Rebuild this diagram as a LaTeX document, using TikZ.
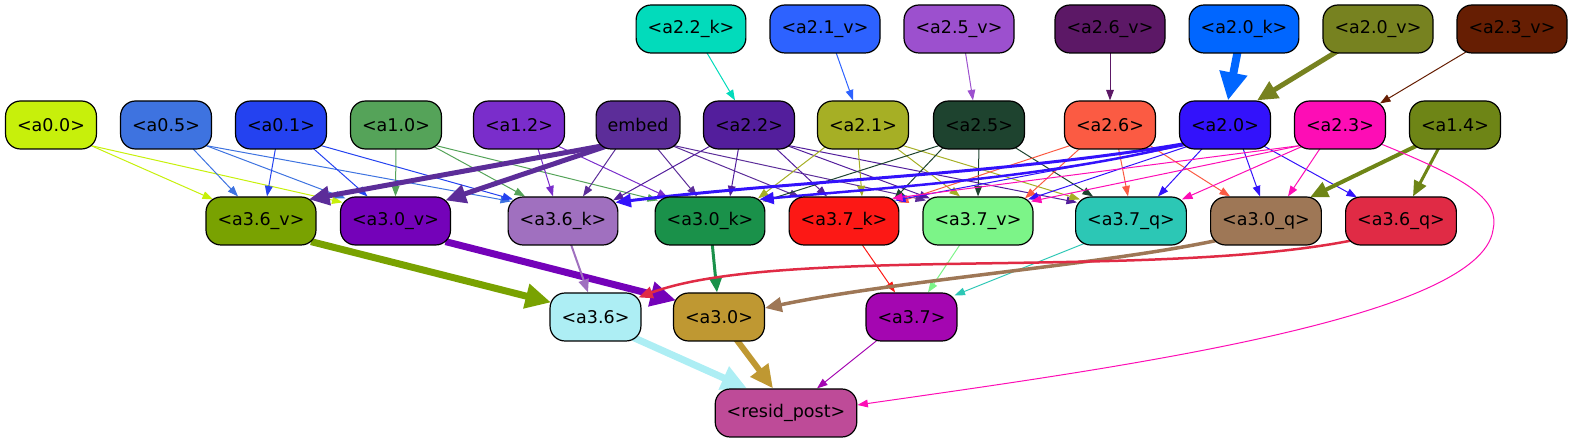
\documentclass[tikz,border=0pt]{standalone}
\usepackage{fontspec}
\setmainfont{DejaVu Sans}
\usetikzlibrary{arrows.meta}
\pgfdeclarelayer{background}
\pgfsetlayers{background,main}
\definecolor{c22k}{HTML}{02DBBB}
\definecolor{c21v}{HTML}{2D62FF}
\definecolor{c25v}{HTML}{9C50CE}
\definecolor{c26v}{HTML}{5C1866}
\definecolor{c20k}{HTML}{0066FF}
\definecolor{c20v}{HTML}{778220}
\definecolor{c23v}{HTML}{661E03}
\definecolor{c00}{HTML}{C7F00B}
\definecolor{c05}{HTML}{3E73E0}
\definecolor{c01}{HTML}{2442F0}
\definecolor{c10}{HTML}{55A359}
\definecolor{c12}{HTML}{7A2DCB}
\definecolor{cemb}{HTML}{5C2D99}
\definecolor{c22}{HTML}{531E9C}
\definecolor{c21}{HTML}{A6AF25}
\definecolor{c25}{HTML}{1E432F}
\definecolor{c26}{HTML}{FB5B43}
\definecolor{c20}{HTML}{3312FB}
\definecolor{c23}{HTML}{FD0DB5}
\definecolor{c14}{HTML}{6E8516}
\definecolor{c36v}{HTML}{79A201}
\definecolor{c30v}{HTML}{7402B9}
\definecolor{c36k}{HTML}{A070BF}
\definecolor{c30k}{HTML}{1A914A}
\definecolor{c37k}{HTML}{FC1815}
\definecolor{c37v}{HTML}{7CF488}
\definecolor{c37q}{HTML}{2CC7B5}
\definecolor{c30q}{HTML}{9E7756}
\definecolor{c36q}{HTML}{E02B45}
\definecolor{c36}{HTML}{ADEEF4}
\definecolor{c30}{HTML}{BF9832}
\definecolor{c37}{HTML}{A406B1}
\definecolor{cres}{HTML}{BE4B98}
\newcommand\myedge[7][]{\draw[ed=#2,#1] ([xshift=#4pt,yshift=4pt]#3.south) -- ([xshift=#6pt,yshift=-#7pt]#5.north);}
\begin{document}
\begin{tikzpicture}[x=1pt,y=-1pt,
  nd/.style={draw=black, line width=1.2pt, rounded corners=15pt, minimum height=48pt,
    inner xsep=11.5pt, inner ysep=0pt, font=\fontsize{17.5}{21}\selectfont, text=black},
  ed/.style={draw=#1, line width=1pt, -{Triangle[length=8pt 2.5, width=5pt 2.7]}}]
\useasboundingbox (0,0) rectangle (1591,443);
% row 1
\node[nd, fill=c22k] (a22k) at (691,29) {<a2.2\_k>};
\node[nd, fill=c21v] (a21v) at (825,29) {<a2.1\_v>};
\node[nd, fill=c25v] (a25v) at (959,29) {<a2.5\_v>};
\node[nd, fill=c26v] (a26v) at (1110,29) {<a2.6\_v>};
\node[nd, fill=c20k] (a20k) at (1244,29) {<a2.0\_k>};
\node[nd, fill=c20v] (a20v) at (1378,29) {<a2.0\_v>};
\node[nd, fill=c23v] (a23v) at (1512,29) {<a2.3\_v>};
% row 2
\node[nd, fill=c00] (a00) at (51,125) {<a0.0>};
\node[nd, fill=c05] (a05) at (166,125) {<a0.5>};
\node[nd, fill=c01] (a01) at (281,125) {<a0.1>};
\node[nd, fill=c10] (a10) at (396,125) {<a1.0>};
\node[nd, fill=c12] (a12) at (519,125) {<a1.2>};
\node[nd, fill=cemb] (emb) at (638,125) {embed};
\node[nd, fill=c22] (a22) at (749,125) {<a2.2>};
\node[nd, fill=c21] (a21) at (863,125) {<a2.1>};
\node[nd, fill=c25] (a25) at (979,125) {<a2.5>};
\node[nd, fill=c26] (a26) at (1110,125) {<a2.6>};
\node[nd, fill=c20] (a20) at (1225,125) {<a2.0>};
\node[nd, fill=c23] (a23) at (1340,125) {<a2.3>};
\node[nd, fill=c14] (a14) at (1455,125) {<a1.4>};
% row 3
\node[nd, fill=c36v] (a36v) at (261,221) {<a3.6\_v>};
\node[nd, fill=c30v] (a30v) at (395.5,221) {<a3.0\_v>};
\node[nd, fill=c36k] (a36k) at (563,221) {<a3.6\_k>};
\node[nd, fill=c30k] (a30k) at (710,221) {<a3.0\_k>};
\node[nd, fill=c37k] (a37k) at (844,221) {<a3.7\_k>};
\node[nd, fill=c37v] (a37v) at (978,221) {<a3.7\_v>};
\node[nd, fill=c37q] (a37q) at (1131,221) {<a3.7\_q>};
\node[nd, fill=c30q] (a30q) at (1266,221) {<a3.0\_q>};
\node[nd, fill=c36q] (a36q) at (1401,221) {<a3.6\_q>};
% row 4
\node[nd, fill=c36] (a36) at (595.5,317) {<a3.6>};
\node[nd, fill=c30] (a30) at (719,317) {<a3.0>};
\node[nd, fill=c37] (a37) at (911.5,317) {<a3.7>};
% row 5
\node[nd, fill=cres] (res) at (786,413) {<resid\_post>};
\begin{pgfonlayer}{background}
% row 1 -> row 2
\myedge{c22k}{a22k}{14}{a22}{-14}{0}
\myedge{c21v}{a21v}{10}{a21}{-10}{0}
\myedge{c25v}{a25v}{6}{a25}{-6}{0}
\myedge{c26v}{a26v}{0}{a26}{0}{0}
\myedge[line width=8pt]{c20k}{a20k}{-6}{a20}{3}{0}
\myedge[line width=5pt]{c20v}{a20v}{-38}{a20}{32}{0}
\myedge{c23v}{a23v}{-42}{a23}{40}{3}
% row 2 -> row 3
\myedge{c00}{a00}{40}{a36v}{-48}{3}
\myedge{c00}{a00}{40}{a30v}{-53}{6}
\myedge{c05}{a05}{24}{a36v}{-23}{0}
\myedge{c05}{a05}{40}{a30v}{-50}{2}
\myedge{c05}{a05}{40}{a36k}{-52}{5}
\myedge{c01}{a01}{-5}{a36v}{6}{0}
\myedge{c01}{a01}{29}{a30v}{-28}{0}
\myedge{c01}{a01}{40}{a36k}{-50}{3}
\myedge{c10}{a10}{0}{a30v}{0}{0}
\myedge{c10}{a10}{36}{a36k}{-38}{0}
\myedge{c10}{a10}{40}{a30k}{-52}{4}
\myedge{c12}{a12}{18}{a36k}{-10}{0}
\myedge{c12}{a12}{38}{a30k}{-42}{1}
\myedge[line width=5pt]{cemb}{emb}{-34}{a36v}{48}{3}
\myedge[line width=5pt]{cemb}{emb}{-30}{a30v}{50}{4}
\myedge{cemb}{emb}{-20}{a36k}{20}{0}
\myedge{cemb}{emb}{17}{a30k}{-13}{0}
\myedge{cemb}{emb}{34}{a37k}{-44}{1}
\myedge{cemb}{emb}{36}{a37v}{-52}{4}
\myedge{c22}{a22}{-38}{a36k}{50}{4}
\myedge{c22}{a22}{-10}{a30k}{20}{0}
\myedge{c22}{a22}{24}{a37k}{-17}{0}
\myedge{c22}{a22}{38}{a37v}{-48}{2}
\myedge{c22}{a22}{40}{a37q}{-54}{6}
\myedge{c21}{a21}{-36}{a30k}{48}{2}
\myedge{c21}{a21}{-5}{a37k}{18}{0}
\myedge{c21}{a21}{30}{a37v}{-18}{0}
\myedge{c21}{a21}{40}{a37q}{-51}{3}
\myedge{c25}{a25}{-40}{a30k}{53}{5}
\myedge{c25}{a25}{-34}{a37k}{50}{3}
\myedge{c25}{a25}{0}{a37v}{0}{0}
\myedge{c25}{a25}{33}{a37q}{-38}{0}
\myedge{c26}{a26}{-40}{a37k}{54}{6}
\myedge{c26}{a26}{-27}{a37v}{47}{2}
\myedge{c26}{a26}{8}{a37q}{-3}{0}
\myedge{c26}{a26}{40}{a30q}{-36}{0}
\myedge{c20}{a20}{-40}{a37k}{51}{4}
\myedge{c20}{a20}{-35}{a37v}{50}{3}
\myedge{c20}{a20}{-20}{a37q}{27}{0}
\myedge{c20}{a20}{17}{a30q}{-6}{0}
\myedge{c20}{a20}{38}{a36q}{-44}{1}
\myedge{c23}{a23}{-40}{a37k}{48}{2}
\myedge{c23}{a23}{-40}{a37v}{53}{5}
\myedge{c23}{a23}{-36}{a37q}{51}{3}
\myedge{c23}{a23}{-18}{a30q}{22}{0}
\myedge[line width=4pt]{c14}{a14}{-38}{a30q}{44}{1}
\myedge[line width=3pt]{c14}{a14}{-15}{a36q}{12}{0}
\draw[ed=c20, line width=3pt] ([xshift=6pt,yshift=6pt]a20.south west) .. controls (1000,175) and (800,180) .. ([xshift=-3pt,yshift=-6pt]a36k.north east);
\draw[ed=c20, line width=2.5pt] ([xshift=6pt,yshift=6pt]a20.south west) .. controls (1050,178) and (880,188) .. ([xshift=-6pt,yshift=-3pt]a30k.north east);
\draw[ed=c23] ([xshift=-6pt,yshift=6pt]a23.south east) .. controls (1470,180) and (1500,200) .. (1493,230) .. controls (1480,320) and (1100,370) .. ([yshift=8pt]res.east);
% row 3 -> row 4
\myedge[line width=7pt]{c36v}{a36v}{50}{a36}{-44.5}{10}
\myedge[line width=7pt]{c30v}{a30v}{50}{a30}{-43}{8}
\myedge[line width=2pt]{c36k}{a36k}{7}{a36}{-7.5}{0}
\myedge[line width=3pt]{c30k}{a30k}{2}{a30}{-2}{0}
\myedge{c37k}{a37k}{16}{a37}{-16.5}{0}
\myedge{c37v}{a37v}{-16}{a37}{16.5}{0}
\myedge{c37q}{a37q}{-42}{a37}{43}{3}
\draw[ed=c30q, line width=3.5pt] ([xshift=6pt,yshift=5pt]a30q.south west) .. controls (1100,265) and (900,280) .. ([yshift=9pt]a30.east);
\draw[ed=c36q, line width=2.5pt] ([xshift=6pt,yshift=5pt]a36q.south west) .. controls (1150,280) and (780,245) .. ([xshift=-3pt,yshift=-5pt]a36.north east);
% row 4 -> row 5
\myedge[line width=7pt]{c36}{a36}{38}{res}{-39}{0}
\myedge[line width=6pt]{c30}{a30}{16}{res}{-13}{0}
\myedge{c37}{a37}{-31}{res}{31}{0}
\end{pgfonlayer}
\end{tikzpicture}
\end{document}
